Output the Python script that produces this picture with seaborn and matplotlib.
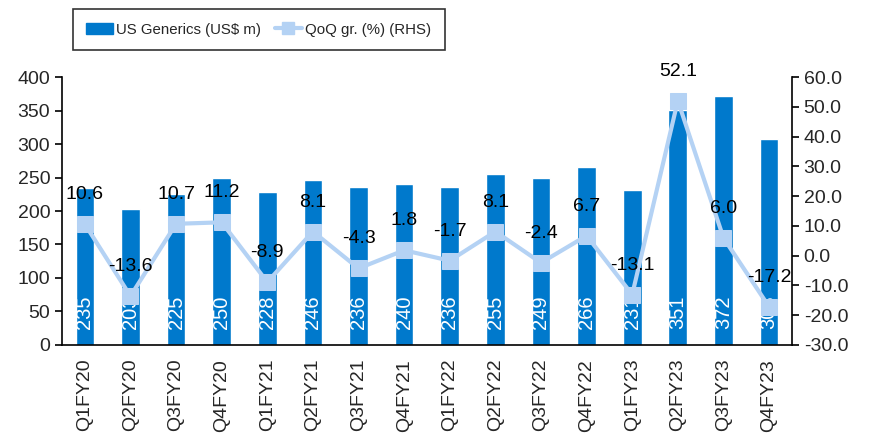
import numpy as np
import pandas as pd
import matplotlib
matplotlib.use('Agg')
import matplotlib.pyplot as plt
import seaborn as sns
from matplotlib.patches import Patch
from matplotlib.lines import Line2D
from matplotlib.transforms import offset_copy

quarters = ['Q1FY20', 'Q2FY20', 'Q3FY20', 'Q4FY20', 'Q1FY21', 'Q2FY21', 'Q3FY21', 'Q4FY21',
            'Q1FY22', 'Q2FY22', 'Q3FY22', 'Q4FY22', 'Q1FY23', 'Q2FY23', 'Q3FY23', 'Q4FY23']
us_generics = [235, 203, 225, 250, 228, 246, 236, 240, 236, 255, 249, 266, 231, 351, 372, 308]
qoq_growth = [10.6, -13.6, 10.7, 11.2, -8.9, 8.1, -4.3, 1.8, -1.7, 8.1, -2.4, 6.7, -13.1, 52.1, 6.0, -17.2]

BAR_COLOR = '#0079CC'
LINE_COLOR = '#B4D2F4'

sns.set_style('white')
plt.rcParams['font.family'] = ['Liberation Sans', 'DejaVu Sans']

df = pd.DataFrame({'quarter': quarters, 'sales': us_generics, 'qoq': qoq_growth})

fig = plt.figure(figsize=(8.74, 4.41), dpi=100)
ax = fig.add_axes([0.071, 0.218, 0.835, 0.607])

sns.barplot(data=df, x='quarter', y='sales', color=BAR_COLOR, width=0.41,
            saturation=1, ax=ax)
ax.set_xlim(-0.5, len(quarters) - 0.5)
ax.set_ylim(0, 400)
ax.set_yticks(np.arange(0, 401, 50))
ax.set_xlabel('')
ax.set_ylabel('')

# bar value labels (white, rotated, at bar base)
for i, v in enumerate(us_generics):
    tr = offset_copy(ax.transData, fig=fig, x=0, y=16, units='dots')
    ax.text(i, 0, str(v), rotation=90, color='white', fontsize=14.5,
            ha='center', va='bottom', transform=tr)

ax2 = ax.twinx()
sns.lineplot(x=np.arange(len(quarters)), y=qoq_growth, color=LINE_COLOR, linewidth=3,
             marker='s', markersize=11, markeredgecolor=LINE_COLOR, ax=ax2)
ax2.set_ylim(-30, 60)
ax2.set_yticks(np.arange(-30, 61, 10))
ax2.set_yticklabels([f'{t:.1f}' for t in np.arange(-30, 61, 10)])

for i, v in enumerate(qoq_growth):
    tr = offset_copy(ax2.transData, fig=fig, x=0, y=21, units='dots')
    ax2.text(i, v, f'{v:.1f}', color='black', fontsize=14, ha='center',
             va='bottom', transform=tr)

# x ticks at category boundaries, labels centered
ax.set_xticks(np.arange(len(quarters)))
ax.set_xticklabels(quarters, rotation=90, fontsize=14)
ax.set_xticks(np.arange(-0.5, len(quarters), 1), minor=True)
ax.tick_params(axis='x', which='major', length=0, pad=10)
ax.tick_params(axis='x', which='minor', length=6, width=1.2, color='black', direction='out')
ax.tick_params(axis='y', length=5, width=1.2, direction='out', labelsize=14, color='black')
ax2.tick_params(axis='y', length=5, width=1.2, direction='out', labelsize=14, color='black')

for a in (ax, ax2):
    a.spines['top'].set_visible(False)
    for s in ('left', 'right', 'bottom'):
        a.spines[s].set_color('black')
        a.spines[s].set_linewidth(1.2)
ax.spines['right'].set_visible(False)
ax2.spines['left'].set_visible(False)
ax2.spines['bottom'].set_visible(False)
ax2.set_ylabel('')

handles = [Patch(facecolor=BAR_COLOR, edgecolor=BAR_COLOR),
           Line2D([0], [0], color=LINE_COLOR, linewidth=3, marker='s', markersize=9)]
leg = fig.legend(handles, ['US Generics (US$ m)', 'QoQ gr. (%) (RHS)'], ncol=2,
                 loc='center', bbox_to_anchor=(0.296, 0.933), frameon=True,
                 fancybox=False, edgecolor='black', fontsize=10.8,
                 handlelength=1.8, handletextpad=0.2, columnspacing=0.9,
                 borderpad=0.9, borderaxespad=0)
leg.get_frame().set_linewidth(1.2)

fig.savefig('out.png', dpi=100)
